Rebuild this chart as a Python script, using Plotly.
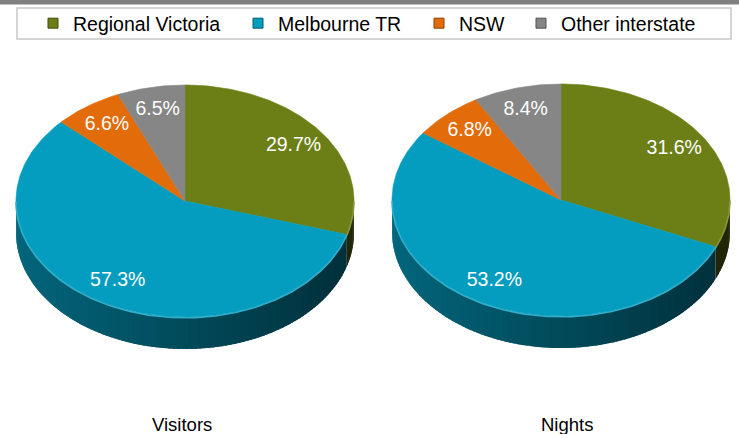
import numpy as np
import plotly.graph_objects as go

# ---------------- data ----------------
categories = ["Regional Victoria", "Melbourne TR", "NSW", "Other interstate"]
visitors = [29.7, 57.3, 6.6, 6.5]
nights = [31.6, 53.2, 6.8, 8.4]
chart_titles = ["Visitors", "Nights"]

# ---------------- style ----------------
colors = ["#6C7F16", "#049DBF", "#E26B0A", "#868686"]
FONT = "Arial, 'Liberation Sans', Helvetica, sans-serif"
W, H = 739, 434
RX, RY, DEPTH = 169, 116, 32
LABEL_K = 0.8
pies = [
    dict(values=visitors, cx=185, cy=201, title_x=182, title=chart_titles[0]),
    dict(values=nights, cx=561, cy=200, title_x=567, title=chart_titles[1]),
]
legend_text_x = [73, 278, 459, 561]


def hex_rgb(h):
    h = h.lstrip("#")
    return tuple(int(h[i:i + 2], 16) for i in (0, 2, 4))


def shade(rgb, f):
    return "rgb(%d,%d,%d)" % tuple(max(0, min(255, int(c * f))) for c in rgb)


def tint(rgb, t):
    return "rgb(%d,%d,%d)" % tuple(int(c + (255 - c) * t) for c in rgb)


fig = go.Figure()

for pie in pies:
    cx, cy = pie["cx"], pie["cy"]
    vals = np.array(pie["values"], dtype=float)
    frac = vals / vals.sum()
    ends = np.cumsum(frac) * 360.0
    starts = ends - frac * 360.0

    # side walls (front half only), drawn as overlapping shaded strips
    for i, (a0, a1) in enumerate(zip(starts, ends)):
        lo, hi = max(a0, 90.0), min(a1, 270.0)
        if hi <= lo:
            continue
        rgb = hex_rgb(colors[i])
        n = int(np.ceil((hi - lo) / 1.5))
        edges = np.linspace(lo, hi, n + 1)
        for k, (s0, s1) in enumerate(zip(edges[:-1], edges[1:])):
            s1e = min(s1 + 1.2, hi) if k < n - 1 else s1
            ph = np.radians(np.linspace(s0, s1e, 5))
            xt = cx + RX * np.sin(ph)
            yt = cy - RY * np.cos(ph)
            xs = np.concatenate([xt, xt[::-1]])
            ys = np.concatenate([yt, yt[::-1] + DEPTH])
            mid = np.radians((s0 + s1) / 2.0)
            f = 0.475 - 0.175 * np.sin(mid)
            c = shade(rgb, f)
            fig.add_trace(go.Scatter(
                x=xs, y=ys, fill="toself", fillcolor=c, mode="lines",
                line=dict(color=c, width=0), hoverinfo="skip", showlegend=False))

    # top faces
    for i, (a0, a1) in enumerate(zip(starts, ends)):
        npts = max(int((a1 - a0) / 1.0) + 2, 3)
        ph = np.radians(np.linspace(a0, a1, npts))
        xs = np.concatenate([[cx], cx + RX * np.sin(ph), [cx]])
        ys = np.concatenate([[cy], cy - RY * np.cos(ph), [cy]])
        fig.add_trace(go.Scatter(
            x=xs, y=ys, fill="toself", fillcolor=colors[i], mode="lines",
            line=dict(color=colors[i], width=0.6), hoverinfo="skip",
            showlegend=False))

    # subtle rim highlight on the front edge
    for i, (a0, a1) in enumerate(zip(starts, ends)):
        lo, hi = max(a0, 90.0), min(a1, 270.0)
        if hi <= lo:
            continue
        ph = np.radians(np.linspace(lo, hi, max(int(hi - lo) + 2, 3)))
        fig.add_trace(go.Scatter(
            x=cx + RX * np.sin(ph), y=cy - RY * np.cos(ph) + 0.8, mode="lines",
            line=dict(color=tint(hex_rgb(colors[i]), 0.18), width=1.6),
            hoverinfo="skip", showlegend=False))

    # percentage labels
    mids = np.radians((starts + ends) / 2.0)
    fig.add_trace(go.Scatter(
        x=cx + LABEL_K * RX * np.sin(mids),
        y=cy - LABEL_K * RY * np.cos(mids),
        mode="text", text=["%.1f%%" % v for v in vals],
        textposition="middle center",
        textfont=dict(color="white", size=19.5, family=FONT),
        hoverinfo="skip", showlegend=False))

    fig.add_annotation(x=pie["title_x"], y=424, xref="x", yref="y",
                       text=pie["title"], showarrow=False,
                       font=dict(size=18.5, color="black", family=FONT))

# legend entries (one legend each, so they can be placed like the original)
legend_layout = {}
for i, cat in enumerate(categories):
    key = "legend" if i == 0 else "legend%d" % (i + 1)
    fig.add_trace(go.Scatter(
        x=[None], y=[None], mode="markers", name=cat,
        marker=dict(symbol="square", size=10, color=colors[i],
                    line=dict(color=shade(hex_rgb(colors[i]), 0.6), width=1)),
        legend=key, showlegend=True, hoverinfo="skip"))
    legend_layout[key] = dict(
        x=(legend_text_x[i] - 40) / W, xanchor="left",
        y=1 - 23.5 / H, yanchor="middle", orientation="h",
        bgcolor="rgba(0,0,0,0)", borderwidth=0,
        font=dict(size=19.5, color="black", family=FONT))

fig.update_layout(
    width=W, height=H,
    margin=dict(l=0, r=0, t=0, b=0),
    paper_bgcolor="white", plot_bgcolor="white",
    xaxis=dict(range=[0, W], visible=False, fixedrange=True),
    yaxis=dict(range=[H, 0], visible=False, fixedrange=True),
    hovermode=False,
    shapes=[
        dict(type="rect", xref="paper", yref="paper", x0=0, x1=1,
             y0=1 - 4.5 / H, y1=1, fillcolor="#808080", line=dict(width=0)),
        dict(type="rect", xref="paper", yref="paper", x0=17 / W, x1=731 / W,
             y0=1 - 39 / H, y1=1 - 8 / H, fillcolor="rgba(0,0,0,0)",
             line=dict(color="#C8C8C8", width=1.5)),
    ],
    **legend_layout,
)

fig.write_html(
    "out.html",
    config={"displayModeBar": False},
    post_script="document.body.style.margin='0';document.body.style.overflow='hidden';",
)
